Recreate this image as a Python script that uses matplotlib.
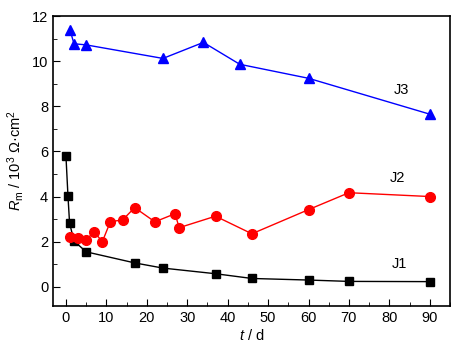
import matplotlib
matplotlib.use("Agg")
import matplotlib.pyplot as plt
from matplotlib.ticker import MultipleLocator

plt.rcParams['font.family'] = ['Liberation Sans', 'DejaVu Sans']
plt.rcParams['mathtext.fontset'] = 'custom'
plt.rcParams['mathtext.rm'] = 'Liberation Sans'
plt.rcParams['mathtext.it'] = 'Liberation Sans:italic'

j1_t = [0, 0.5, 0.9, 2, 5, 17, 24, 37, 46, 60, 70, 90]
j1_r = [5.81, 4.03, 2.82, 2.03, 1.55, 1.06, 0.83, 0.58, 0.37, 0.30, 0.24, 0.23]

j2_t = [1, 3, 5, 7, 9, 11, 14, 17, 22, 27, 28, 37, 46, 60, 70, 90]
j2_r = [2.20, 2.18, 2.09, 2.43, 2.00, 2.89, 2.96, 3.51, 2.88, 3.24, 2.62, 3.13, 2.35, 3.42, 4.17, 4.00]

j3_t = [1, 2, 5, 24, 34, 43, 60, 90]
j3_r = [11.38, 10.77, 10.72, 10.12, 10.83, 9.86, 9.24, 7.65]

xticks = [0, 10, 20, 30, 40, 50, 60, 70, 80, 90]
yticks = [0, 2, 4, 6, 8, 10, 12]

fig = plt.figure(figsize=(4.63, 3.53), dpi=100)
ax = fig.add_axes([53/463, 1-306/353, (450-53)/463, (306-16)/353])

ax.plot(j1_t, j1_r, color='black', marker='s', markersize=6, lw=1)
ax.plot(j2_t, j2_r, color='red', marker='o', markersize=7, lw=1)
ax.plot(j3_t, j3_r, color='blue', marker='^', markersize=7, lw=1)

ax.text(83, 8.7, 'J3', fontsize=10.5, ha='center', va='center')
ax.text(82, 4.8, 'J2', fontsize=10.5, ha='center', va='center')
ax.text(82.5, 1.0, 'J1', fontsize=10.5, ha='center', va='center')

ax.set_xlim(-3.2, 95)
ax.set_ylim(-0.85, 12)
ax.set_xticks(xticks)
ax.set_yticks(yticks)
ax.xaxis.set_minor_locator(MultipleLocator(5))
ax.yaxis.set_minor_locator(MultipleLocator(1))
ax.tick_params(which='both', direction='in', labelsize=10.5)
ax.tick_params(which='major', length=5)
ax.tick_params(which='minor', length=3)
for s in ax.spines.values():
    s.set_linewidth(1.2)

ax.set_xlabel(r'$t$ / d', fontsize=10.5, labelpad=2)
ax.set_ylabel(r'$R_\mathrm{m}$ / 10$^3$ Ω·cm$^2$', fontsize=10.5, labelpad=4)

fig.savefig('out.png', dpi=100)
